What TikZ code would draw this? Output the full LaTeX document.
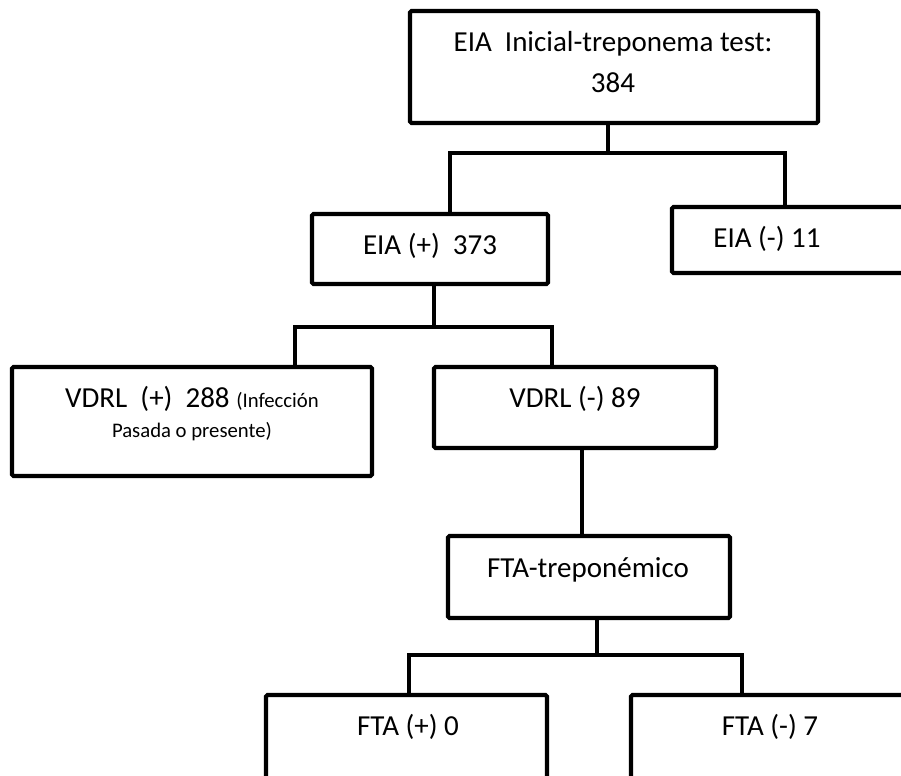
\documentclass[tikz,border=0pt]{standalone}
\usepackage{fontspec}
\setmainfont{Carlito}
\usetikzlibrary{fit}
\begin{document}
\begin{tikzpicture}[x=0.02cm,y=-0.02cm,
  box/.style={draw=black, line width=2.3pt, inner sep=0pt, outer sep=0pt, rectangle, rounded corners=0.8pt},
  conn/.style={draw=black, line width=2.3pt},
  txt/.style={anchor=base, inner sep=0pt, font=\fontsize{16.5}{19}\selectfont},
  smalltxt/.style={anchor=base, inner sep=0pt, font=\fontsize{11.8}{14}\selectfont}]
\fill[white] (0,0) rectangle (901,776);
\useasboundingbox (0,0) rectangle (901,776);
\clip (0,0) rectangle (901,776);
% boxes
\node[box, fit={(410,11) (818,123)}] (top) {};
\node[box, fit={(312,214) (548,284)}] (eiap) {};
\node[box, fit={(672,207) (960,273)}] (eian) {};
\node[box, fit={(12,367) (372,476)}] (vdrlp) {};
\node[box, fit={(434,367) (716,448)}] (vdrln) {};
\node[box, fit={(448,536) (730,618)}] (fta) {};
\node[box, fit={(266,695) (547,800)}] (ftap) {};
\node[box, fit={(631,695) (909,800)}] (ftan) {};
% texts
\node[txt] (t1) at (613,52) {EIA\ \ Inicial-treponema test:};
\node[txt] (t2) at (613,93) {384};
\node[txt] (t3) at (430,255) {EIA (+)\ \ 373};
\node[txt] (t4) at (767,248) {EIA (-) 11};
\node[txt] (t5) at (192,407) {VDRL\ \ (+)\ \ 288 {\fontsize{11.8}{14}\selectfont(Infección}};
\node[smalltxt] (t6) at (192,437) {Pasada o presente)};
\node[txt] (t7) at (575,407) {VDRL (-) 89};
\node[txt] (t8) at (588,577) {FTA-treponémico};
\node[txt] (t9) at (408,735) {FTA (+) 0};
\node[txt] (t10) at (770,735) {FTA (-) 7};
% connectors
\coordinate (a1) at (608,153);
\coordinate (a2) at (450,153);
\coordinate (a3) at (785,153);
\draw[conn] (top.south -| a1) -- (a1);
\draw[conn] (eiap.north -| a2) -- (a2) -- (a3) -- (eian.north -| a3);
\coordinate (b1) at (434,327);
\coordinate (b2) at (295,327);
\coordinate (b3) at (552,327);
\draw[conn] (eiap.south -| b1) -- (b1);
\draw[conn] (vdrlp.north -| b2) -- (b2) -- (b3) -- (vdrln.north -| b3);
\coordinate (c1) at (582,500);
\draw[conn] (vdrln.south -| c1) -- (fta.north -| c1);
\coordinate (d1) at (597,655);
\coordinate (d2) at (409,655);
\coordinate (d3) at (742,655);
\draw[conn] (fta.south -| d1) -- (d1);
\draw[conn] (ftap.north -| d2) -- (d2) -- (d3) -- (ftan.north -| d3);
\end{tikzpicture}
\end{document}
